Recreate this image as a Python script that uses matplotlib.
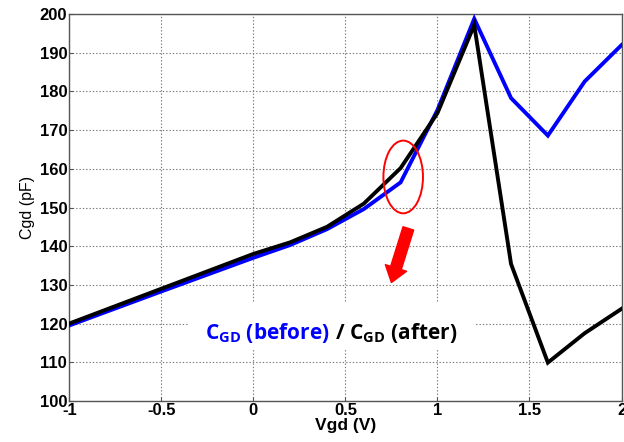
import matplotlib
matplotlib.use("Agg")
import matplotlib.pyplot as plt
from matplotlib.patches import Ellipse, Rectangle

plt.rcParams['font.family'] = ['Liberation Sans', 'DejaVu Sans']
plt.rcParams['mathtext.fontset'] = 'custom'
plt.rcParams['mathtext.rm'] = 'Open Sans:bold'
plt.rcParams['mathtext.bf'] = 'Open Sans:bold'

vgd = [-1.0, -0.5, 0.0, 0.2, 0.4, 0.6, 0.8, 1.0, 1.2, 1.4, 1.6, 1.8, 2.0]
cgd_before = [119.5, 128.3, 137.0, 140.3, 144.4, 149.6, 156.5, 175.2, 198.8, 178.3, 168.6, 182.6, 192.0]
cgd_after = [120.0, 129.0, 138.0, 141.0, 145.0, 151.0, 160.2, 174.4, 197.2, 135.4, 109.9, 117.5, 123.8]

xticks = [-1, -0.5, 0, 0.5, 1, 1.5, 2]
xticklabels = ['-1', '-0.5', '0', '0.5', '1', '1.5', '2']
yticks = [100, 110, 120, 130, 140, 150, 160, 170, 180, 190, 200]

fig = plt.figure(figsize=(6.24, 4.42), dpi=100)
ax = fig.add_axes([0.111, 0.093, 0.885, 0.875])

ax.plot(vgd, cgd_before, color='#0000ff', lw=2.8, zorder=3, solid_joinstyle='miter')
ax.plot(vgd, cgd_after, color='black', lw=2.8, zorder=4, solid_joinstyle='miter')

ax.set_xlim(-1, 2)
ax.set_ylim(100, 200)
ax.set_xticks(xticks)
ax.set_xticklabels(xticklabels)
ax.set_yticks(yticks)
ax.grid(True, linestyle=(0, (1.2, 1.8)), color='#777777', lw=0.8)
ax.tick_params(direction='in', length=3, width=0.8, labelsize=12, color='#555555', pad=1.5)
for lab in ax.get_xticklabels() + ax.get_yticklabels():
    lab.set_fontweight('bold')
for s in ax.spines.values():
    s.set_color('#555555')
    s.set_linewidth(1.0)

ax.set_xlabel('Vgd (V)', fontsize=12.5, fontweight='bold', labelpad=0)
ax.set_ylabel('Cgd (pF)', fontsize=11.5, labelpad=3)

# annotations
ax.add_patch(Ellipse((0.814, 157.9), 0.215, 18.8, fill=False, edgecolor='red', lw=1.4, zorder=5))
ax.annotate('', xy=(0.75, 130.6), xytext=(0.842, 144.6),
            arrowprops=dict(arrowstyle='simple,head_length=0.55,head_width=0.8,tail_width=0.4',
                            color='red', mutation_scale=20, shrinkA=0, shrinkB=0), zorder=5)

ax.add_patch(Rectangle((-0.357, 113.3), 1.567, 12.0, facecolor='white', edgecolor='none', zorder=2.5))
t1 = ax.text(-0.26, 117.6, r'$\mathrm{C}_{\mathrm{GD}}$ (before)', color='#0000ff', fontsize=15,
             fontweight='bold', family='Open Sans', va='center', ha='left', zorder=6)
ax.annotate(r' / $\mathrm{C}_{\mathrm{GD}}$ (after)', xy=(1, 0), xycoords=t1, va='bottom', ha='left',
            color='black', fontsize=15, fontweight='bold', family='Open Sans', zorder=6)

fig.savefig('out.png', dpi=100, facecolor='white')
